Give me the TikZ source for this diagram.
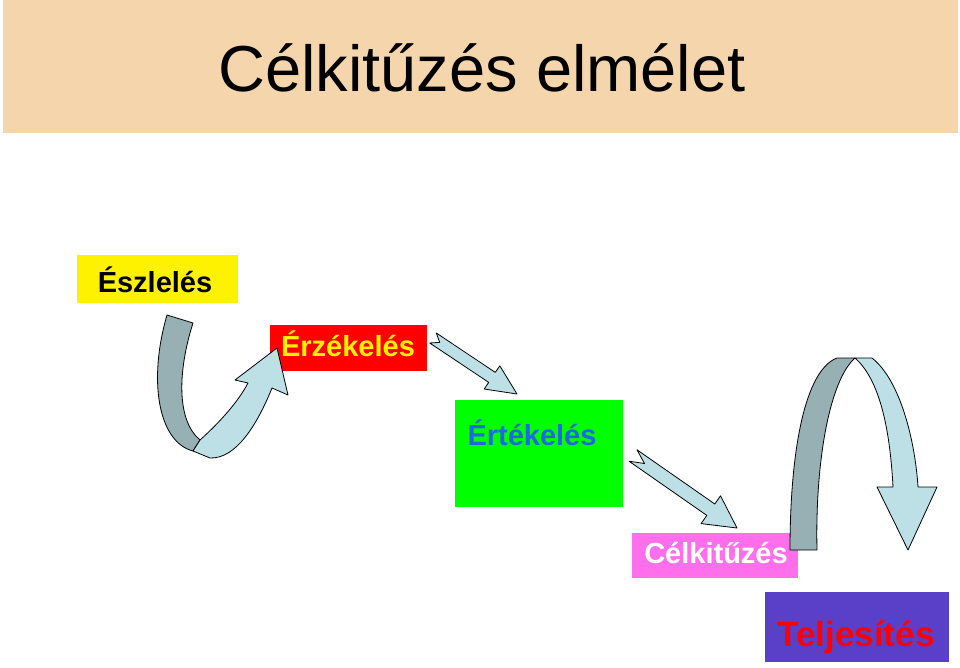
\documentclass[tikz,border=0pt]{standalone}
\usepackage{fontspec}
\setmainfont{Liberation Sans}
\definecolor{band}{RGB}{245,213,172}
\definecolor{ribbonlight}{RGB}{188,224,230}
\definecolor{ribbondark}{RGB}{150,176,180}
\definecolor{boxpink}{RGB}{255,110,235}
\definecolor{boxviolet}{RGB}{90,64,200}
\definecolor{textblue}{RGB}{30,105,225}
\begin{document}
\begin{tikzpicture}[x=1pt,y=-1pt,
  stage/.style={anchor=north west,inner sep=0pt,outer sep=0pt},
  stagetext/.style={anchor=base,inner sep=0pt,font=\bfseries\fontsize{29}{34}\selectfont},
  ribbon/.style={draw=black,line width=0.8pt,line join=round}]
\useasboundingbox (0,0) rectangle (960,668);
% title band
\fill[band] (3,0) rectangle (958,133);
\node[anchor=base,inner sep=0pt,font=\fontsize{65}{72}\selectfont] (title) at (482,92) {Célkitűzés elmélet};
% boxes
\node[stage,fill=yellow,minimum width=161,minimum height=48] (eszbox) at (77,255) {};
\node[stage,fill=red,minimum width=157,minimum height=46] (erzbox) at (270,325) {};
\node[stage,fill=green,minimum width=168,minimum height=107] (ertbox) at (455,400) {};
\node[stage,fill=boxpink,minimum width=166,minimum height=45] (celbox) at (632,533) {};
\node[stage,fill=boxviolet,minimum width=184,minimum height=70] (teljbox) at (765,592) {};
% labels
\node[stagetext,text=black] (eszlbl) at (155,292) {Észlelés};
\node[stagetext,text=yellow] (erzlbl) at (348,356) {Érzékelés};
\node[stagetext,text=textblue] (ertlbl) at (532,445) {Értékelés};
\node[stagetext,text=white] (cellbl) at (716,563) {Célkitűzés};
\node[stagetext,text=red,font=\bfseries\fontsize{35}{40}\selectfont] (tejlbl) at (856,646) {Teljesítés};
% U-turn ribbon, left
\draw[ribbon,fill=ribbondark] (167,315) -- (193,323) .. controls (178,370) and (176,420) .. (200,440)
  -- (193,451) .. controls (158,442) and (148,380) .. (167,315) -- cycle;
\draw[ribbon,fill=ribbonlight] (200,440) .. controls (220,422) and (238,402) .. (248,383) -- (235,380)
  -- (277,348) -- (288,395) -- (272,388) .. controls (257,425) and (236,459) .. (210,458) -- (193,451) -- cycle;
% straight arrows
\draw[ribbon,fill=ribbonlight] (436.3,333) -- (495.3,372.4) -- (499.8,365.8) -- (517,394)
  -- (484.2,389) -- (488.7,382.4) -- (429.7,343) -- (439.7,342.4) -- cycle;
\draw[ribbon,fill=ribbonlight] (637,449.8) -- (714.8,504) -- (720.5,495.8) -- (737,528)
  -- (701.1,523.6) -- (706.8,515.4) -- (629,461.2) -- (644.5,463.5) -- cycle;
% arch ribbon, right
\draw[ribbon,fill=ribbondark] (790,550) .. controls (790,450) and (805,370) .. (837,358) -- (855,358)
  .. controls (830,380) and (815,460) .. (817,550) -- cycle;
\draw[ribbon,fill=ribbonlight] (855,358) -- (872,358) .. controls (900,380) and (915,440) .. (918,487)
  -- (937,487) -- (908,550) -- (877,487) -- (893,487) .. controls (890,430) and (880,380) .. (855,358) -- cycle;
\end{tikzpicture}
\end{document}
